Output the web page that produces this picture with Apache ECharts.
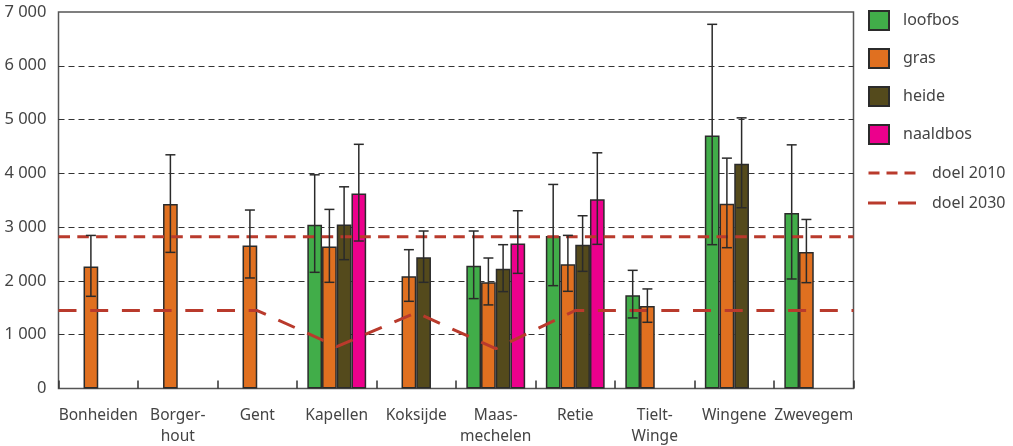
<!DOCTYPE html>
<html>
<head>
<meta charset="utf-8">
<script src="https://cdn.jsdelivr.net/npm/echarts@6/dist/echarts.min.js"></script>
<style>
  html, body { margin: 0; padding: 0; background: #fff; }
  #chart { width: 1013px; height: 446px; }
</style>
</head>
<body>
<div id="chart"></div>
<script>
// gemeenten
var gemeenten = ['Bonheiden', 'Borger-\nhout', 'Gent', 'Kapellen', 'Koksijde',
  'Maas-\nmechelen', 'Retie', 'Tielt-\nWinge', 'Wingene', 'Zwevegem'];

// gemiddelde waarden per vegetatietype
var loofbos  = [null, null, null, 3045, null, 2284, 2835, 1733, 4703, 3262];
var gras     = [2270, 3430, 2660, 2642, 2085, 1974, 2309, 1535, 3435, 2538];
var heide    = [null, null, null, 3051, 2438, 2228, 2674, null, 4177, null];
var naaldbos = [null, null, null, 3627, null, 2698, 3520, null, null, null];

// foutenbalken (onder / boven)
var loofbosLaag  = [null, null, null, 2160, null, 1671, 1912, 1312, 2674, 2036];
var loofbosHoog  = [null, null, null, 3973, null, 2928, 3794, 2197, 6771, 4530];
var grasLaag     = [1714, 2531, 2055, 1974, 1621, 1554, 1807, 1231, 2618, 1968];
var grasHoog     = [2846, 4345, 3318, 3330, 2581, 2426, 2847, 1851, 4283, 3143];
var heideLaag    = [null, null, null, 2395, 1974, 1801, 2178, null, 3361, null];
var heideHoog    = [null, null, null, 3750, 2928, 2674, 3212, null, 5032, null];
var naaldbosLaag = [null, null, null, 2742, null, 2141, 2680, null, null, null];
var naaldbosHoog = [null, null, null, 4540, null, 3305, 4382, null, null, null];

// doelen
var doel2010 = [2820, 2820, 2820, 2820, 2820, 2820, 2820, 2820, 2820, 2820];
var doel2030 = [1450, 1450, 1450, 780, 1410, 740, 1450, 1450, 1450, 1450];

var yTicks = [0, 1000, 2000, 3000, 4000, 5000, 6000, 7000];

var catGap = 0.26;
var kleur = {
  loofbos: '#41ad49',
  gras: '#e07020',
  heide: '#544a1c',
  naaldbos: '#ec008c',
  doel: '#b93a2c'
};

function barSerie(naam, data, color) {
  return {
    name: naam,
    type: 'bar',
    data: data,
    barGap: '0%',
    barCategoryGap: (catGap * 100) + '%',
    itemStyle: { color: color, borderColor: '#2b2b2b', borderWidth: 1.5 },
    emphasis: { disabled: true }
  };
}

function foutSerie(k, laag, hoog) {
  var data = [];
  for (var i = 0; i < laag.length; i++) {
    if (laag[i] != null) data.push([i, laag[i], hoog[i]]);
  }
  return {
    type: 'custom',
    z: 5,
    data: data,
    encode: { x: 0, y: [1, 2] },
    renderItem: function (params, api) {
      var band = api.size([1, 0])[0];
      var bw = band * (1 - catGap) / 4;
      var off = -band * (1 - catGap) / 2 + bw * (k + 0.5);
      var lo = api.coord([api.value(0), api.value(1)]);
      var hi = api.coord([api.value(0), api.value(2)]);
      var x = lo[0] + off;
      var cap = 5;
      var st = { stroke: '#2a2a2a', lineWidth: 1.5 };
      return {
        type: 'group',
        children: [
          { type: 'line', shape: { x1: x, y1: lo[1], x2: x, y2: hi[1] }, style: st },
          { type: 'line', shape: { x1: x - cap, y1: lo[1], x2: x + cap, y2: lo[1] }, style: st },
          { type: 'line', shape: { x1: x - cap, y1: hi[1], x2: x + cap, y2: hi[1] }, style: st }
        ]
      };
    }
  };
}

// doellijnen lopen door tot de randen van de grafiek
function doelPunten(vals) {
  var pts = [[0, vals[0]]];
  for (var i = 0; i < vals.length; i++) pts.push([i + 0.5, vals[i]]);
  pts.push([vals.length, vals[vals.length - 1]]);
  return pts;
}

function doelSerie(naam, vals, dash) {
  return {
    name: naam,
    type: 'line',
    xAxisIndex: 1,
    data: doelPunten(vals),
    symbol: 'none',
    z: 4,
    lineStyle: { color: kleur.doel, width: 3, type: dash },
    itemStyle: { color: kleur.doel },
    emphasis: { disabled: true }
  };
}

var chart = echarts.init(document.getElementById('chart'));
chart.setOption({
  animation: false,
  textStyle: { fontFamily: 'Noto Sans' },
  grid: {
    left: 58.5, right: 159.5, top: 12, bottom: 57.5,
    outerBoundsMode: 'none', containLabel: false,
    show: true, borderColor: '#555', borderWidth: 1.5
  },
  legend: [{
    data: [
      { name: 'loofbos', icon: 'rect' },
      { name: 'gras', icon: 'rect' },
      { name: 'heide', icon: 'rect' },
      { name: 'naaldbos', icon: 'rect' }
    ],
    orient: 'vertical',
    left: 868, top: 10, padding: 0,
    itemWidth: 20, itemHeight: 19, itemGap: 17,
    textStyle: { fontSize: 16, color: '#444', lineHeight: 19, padding: [0, 0, 0, 9] },
    selectedMode: false
  }, {
    data: [
      { name: 'doel 2010', icon: 'path://M0,0h11v3h-11z M18,0h11v3h-11z M36,0h11v3h-11z' },
      { name: 'doel 2030', icon: 'path://M0,0h18v3h-18z M30,0h18v3h-18z' }
    ],
    orient: 'vertical',
    left: 868, top: 165, padding: 0,
    itemWidth: 48, itemHeight: 3, itemGap: 14,
    textStyle: { fontSize: 16, color: '#444', lineHeight: 16, padding: [0, 0, 0, 11] },
    selectedMode: false
  }],
  xAxis: [{
    type: 'category',
    data: gemeenten,
    axisLine: { show: false },
    axisTick: { show: true, inside: true, length: 8, lineStyle: { color: '#333', width: 1.5 } },
    axisLabel: { color: '#444', fontSize: 15.5, margin: 17, lineHeight: 21, interval: 0 },
    splitLine: { show: false }
  }, {
    type: 'value',
    min: 0, max: gemeenten.length,
    show: false
  }],
  yAxis: {
    type: 'value',
    min: yTicks[0], max: yTicks[yTicks.length - 1], interval: 1000,
    axisLine: { show: false },
    axisTick: { show: false },
    axisLabel: {
      color: '#444', fontSize: 16.5, margin: 12,
      formatter: function (v) {
        var s = String(v);
        return s.length > 3 ? s.slice(0, s.length - 3) + ' ' + s.slice(-3) : s;
      }
    },
    splitLine: {
      show: true,
      lineStyle: { color: '#333', width: 1.2, type: [6, 4] },
      showMaxLine: false, showMinLine: false
    }
  },
  series: [
    barSerie('loofbos', loofbos, kleur.loofbos),
    barSerie('gras', gras, kleur.gras),
    barSerie('heide', heide, kleur.heide),
    barSerie('naaldbos', naaldbos, kleur.naaldbos),
    foutSerie(0, loofbosLaag, loofbosHoog),
    foutSerie(1, grasLaag, grasHoog),
    foutSerie(2, heideLaag, heideHoog),
    foutSerie(3, naaldbosLaag, naaldbosHoog),
    doelSerie('doel 2010', doel2010, [11.5, 7.3]),
    doelSerie('doel 2030', doel2030, [18, 13.7])
  ]
});
</script>
</body>
</html>
